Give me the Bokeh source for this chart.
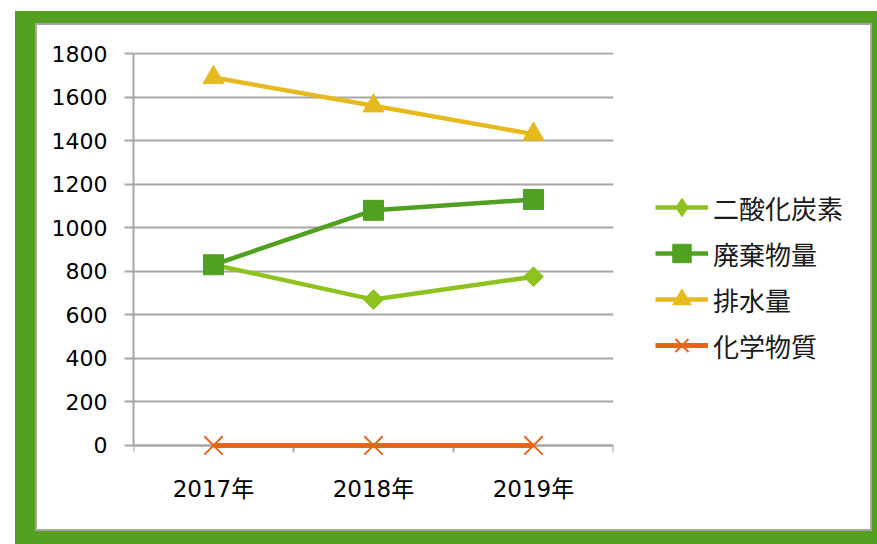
from bokeh.plotting import figure
from bokeh.layouts import column, row
from bokeh.models import (FactorRange, Range1d, FixedTicker, LinearAxis,
                          CategoricalAxis, Legend, LegendItem, Grid)
from bokeh.embed import file_html
from bokeh.resources import INLINE
import math

# ---- data ----
years = ["2017年", "2018年", "2019年"]
co2 = [830, 670, 775]          # 二酸化炭素
waste = [830, 1080, 1130]      # 廃棄物量
water = [1690, 1560, 1430]     # 排水量
chem = [0, 0, 0]               # 化学物質
series_names = ["二酸化炭素", "廃棄物量", "排水量", "化学物質"]
yticks = [0, 200, 400, 600, 800, 1000, 1200, 1400, 1600, 1800]

GRID = "#a6a6a6"
NUM_FONT = "DejaVu Sans"
JP_FONT = "Noto Sans CJK JP"

c_co2 = "#8dc21f"
c_waste = "#50a021"
c_water = "#e6b91e"
c_chem = "#e5661a"

# ---------------- main chart ----------------
p = figure(width=586, height=504, output_backend="svg", toolbar_location=None,
           x_range=FactorRange(factors=years, range_padding=0, factor_padding=0),
           y_range=Range1d(-60, 1805),
           x_axis_type=None, y_axis_type=None,
           min_border_left=96, min_border_right=10, min_border_top=27,
           min_border_bottom=71,
           background_fill_color="white", border_fill_color="white",
           outline_line_color=None)

p.add_layout(Grid(dimension=1, ticker=FixedTicker(ticks=yticks),
                  grid_line_color=GRID, grid_line_width=2))

yaxis = LinearAxis(ticker=FixedTicker(ticks=yticks), bounds=(0, 1800))
yaxis.axis_line_color = GRID
yaxis.axis_line_width = 2
yaxis.major_tick_line_color = GRID
yaxis.major_tick_line_width = 2
yaxis.major_tick_out = 9
yaxis.major_tick_in = 0
yaxis.minor_tick_line_color = None
yaxis.major_label_standoff = 17
yaxis.major_label_text_font = NUM_FONT
yaxis.major_label_text_font_size = "22px"
yaxis.major_label_text_color = "#000000"
p.add_layout(yaxis, "left")

xtick_axis = LinearAxis(ticker=FixedTicker(ticks=[0, 1, 2, 3]), fixed_location=0)
xtick_axis.axis_line_color = GRID
xtick_axis.axis_line_width = 2
xtick_axis.major_tick_line_color = GRID
xtick_axis.major_tick_line_width = 2
xtick_axis.major_tick_out = 7
xtick_axis.major_tick_in = 0
xtick_axis.minor_tick_line_color = None
xtick_axis.major_label_text_alpha = 0
xtick_axis.major_label_text_font_size = "1px"
xtick_axis.level = "underlay"
p.add_layout(xtick_axis, "below")

xlab_axis = CategoricalAxis()
xlab_axis.axis_line_color = None
xlab_axis.major_tick_line_color = None
xlab_axis.major_tick_out = 0
xlab_axis.major_tick_in = 0
xlab_axis.major_label_standoff = 17
xlab_axis.major_label_text_font = f"{NUM_FONT}, {JP_FONT}"
xlab_axis.major_label_text_font_size = "23px"
xlab_axis.major_label_text_color = "#000000"
p.add_layout(xlab_axis, "below")

p.line(years, co2, line_color=c_co2, line_width=4.5)
p.scatter(years, co2, marker="square", angle=math.pi / 4, size=14,
          fill_color=c_co2, line_color=c_co2)
p.line(years, waste, line_color=c_waste, line_width=4.5)
p.scatter(years, waste, marker="square", size=20,
          fill_color=c_waste, line_color=c_waste)
p.line(years, water, line_color=c_water, line_width=4.5)
p.scatter(years, water, marker="triangle", size=21,
          fill_color=c_water, line_color=c_water)
p.line(years, chem, line_color=c_chem, line_width=5)
p.scatter(years, chem, marker="x", size=26, line_color=c_chem, line_width=2)

# ---------------- legend panel ----------------
lf = figure(width=247, height=504, output_backend="svg", toolbar_location=None,
            x_range=FactorRange(factors=years), y_range=Range1d(10000, 10001),
            x_axis_type=None, y_axis_type=None,
            min_border_left=0, min_border_right=0, min_border_top=0,
            min_border_bottom=0,
            background_fill_color="white", border_fill_color="white",
            outline_line_color=None)
lf.xgrid.visible = False
lf.ygrid.visible = False

l1 = lf.line(years, co2, line_color=c_co2, line_width=4.5)
m1 = lf.scatter(years, co2, marker="diamond", size=22,
                fill_color=c_co2, line_color=c_co2)
l2 = lf.line(years, waste, line_color=c_waste, line_width=4.5)
m2 = lf.scatter(years, waste, marker="square", size=20,
                fill_color=c_waste, line_color=c_waste)
l3 = lf.line(years, water, line_color=c_water, line_width=4.5)
m3 = lf.scatter(years, water, marker="triangle", size=21,
                fill_color=c_water, line_color=c_water)
l4 = lf.line(years, chem, line_color=c_chem, line_width=5)
m4 = lf.scatter(years, chem, marker="x", size=26, line_color=c_chem, line_width=2)

legend = Legend(items=[
    LegendItem(label=series_names[0], renderers=[l1, m1]),
    LegendItem(label=series_names[1], renderers=[l2, m2]),
    LegendItem(label=series_names[2], renderers=[l3, m3]),
    LegendItem(label=series_names[3], renderers=[l4, m4]),
], location=(32, 90))
legend.glyph_width = 53
legend.glyph_height = 46
legend.label_height = 46
legend.spacing = 0
legend.padding = 0
legend.margin = 0
legend.label_standoff = 5
legend.border_line_alpha = 0
legend.background_fill_alpha = 0
legend.label_text_font = JP_FONT
legend.label_text_font_size = "26px"
legend.label_text_color = "#1a1a1a"
lf.add_layout(legend)

inner = row(p, lf, margin=(14, 7, 15, 22), spacing=0,
            styles={"background-color": "white",
                    "box-shadow": "0 0 0 2px #a6a6a6"})
layout = column(inner, margin=(11, 0, 0, 15),
                styles={"background-color": "#55a023"})

open("out.html", "w").write(file_html(layout, INLINE))
